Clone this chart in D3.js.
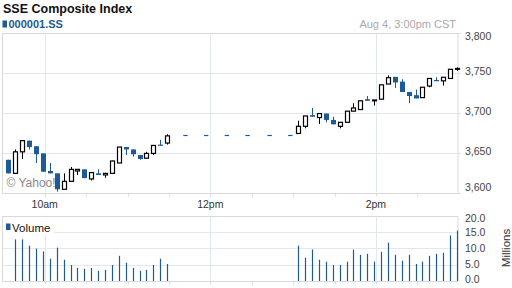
<!DOCTYPE html>
<html><head><meta charset="utf-8">
<script src="https://cdn.jsdelivr.net/npm/d3@7/dist/d3.min.js"></script>
<style>
html,body{margin:0;padding:0;background:#fff;}
svg{display:block;font-family:Arial,"Liberation Sans",sans-serif;}
</style></head>
<body><svg id="c" width="512" height="288"></svg>
<script>
const times = ["09:30","09:35","09:40","09:45","09:50","09:55","10:00","10:05","10:10","10:15","10:20","10:25",
"10:30","10:35","10:40","10:45","10:50","10:55","11:00","11:05","11:10","11:15","11:20","11:25",
"13:00","13:05","13:10","13:15","13:20","13:25","13:30","13:35","13:40","13:45","13:50","13:55",
"14:00","14:05","14:10","14:15","14:20","14:25","14:30","14:35","14:40","14:45","14:50","14:55"];
const open  = [3641,3624,3651,3665,3658,3649,3627,3624,3604,3614,3627,3629,3617,3624,3622,3624,3637,3657,3654,3647,3643,3649,3660,3662,
3674,3683,3697,3694,3699,3691,3683,3688,3702,3704,3717,3715,3717,3736,3745,3739,3726,3722,3719,3733.5,3741,3740,3743,3754.5];
const high  = [3641,3654,3665,3665,3658,3649,3637,3624,3624,3632,3629,3629,3625,3629,3624,3640,3657,3657,3654,3647,3651,3659,3666,3673,
3690,3696,3706,3699,3699,3695,3688,3702,3712,3715,3721,3716,3735,3747,3745,3742,3726,3729,3732,3743,3744.5,3744.5,3754.5,3757];
const low   = [3624,3624,3642,3654,3637,3626,3624,3601,3604,3614,3622,3618,3615,3622,3618.5,3624,3637,3647,3645,3641,3643,3647,3659,3660,
3674,3680.5,3695,3686,3688,3685.5,3680.5,3688,3702,3704,3715,3709,3717,3736,3731,3726,3712,3718,3719,3732,3740,3734,3743,3752.5];
const close = [3624,3651,3665,3657,3648,3626,3624,3604,3614,3629,3629,3618,3625,3622,3624,3639.5,3657,3654,3648,3642,3649,3659,3659,3671,
3683,3696,3695,3699,3691,3685.5,3688,3702,3706,3715,3715,3716,3735,3744,3738,3726,3721,3718,3732,3743,3740,3744.5,3754.5,3755.5];
const volume = [null,12.7,12.7,10.8,9.9,9.0,6.8,10.2,6.5,4.9,4.0,3.7,4.0,3.1,3.4,4.9,7.7,5.6,4.0,3.1,3.4,4.9,6.8,5.2,
10.8,7.1,9.6,6.5,5.9,4.9,4.9,5.9,9.6,8.0,8.3,5.9,8.9,11.7,8.0,6.2,8.0,5.2,5.9,7.7,8.3,8.6,13.9,15.4];
const lunchTimes = ["11:42","11:57","12:12","12:27","12:43","12:58"];
const lunchPrice = [3672,3672,3672,3672,3672,3672];
const priceTicks = [3600,3650,3700,3750,3800];
const volTicks = [0,5,10,15,20];
const hourTicks = ["10:00","12:00","14:00"];
const hourLabels = ["10am","12pm","2pm"];
const halfTicks = ["10:30","11:00","11:30","12:30","13:00","13:30","14:30"];

const BLUE = "#1d5a96", GRID = "#e3e7f1", BORDER = "#d9d9d9";
const parseT = s => { const [h,m] = s.split(":").map(Number); return new Date(2015,7,4,h,m); };
const svg = d3.select("#c");
const L = 3, R = 458, T1 = 33, B1 = 192.5, T2 = 215.5, B2 = 281;
const x = d3.scaleTime().domain([parseT("09:30"), parseT("15:00")]).range([3.3, 458.7]);
const y = d3.scaleLinear().domain([3600,3800]).range([B1, T1]);
const yv = d3.scaleLinear().domain([0,20]).range([B2, T2]);
const step = x(parseT("09:35")) - x(parseT("09:30"));
const cx = s => x(parseT(s)) + step * 0.75;

// header
svg.append("text").attr("x",3).attr("y",13).attr("font-size",12.5).attr("font-weight","bold").attr("fill","#111").text("SSE Composite Index");
svg.append("rect").attr("x",2.5).attr("y",20.5).attr("width",4.5).attr("height",7).attr("fill",BLUE);
svg.append("text").attr("x",8.5).attr("y",27.5).attr("font-size",11).attr("font-weight","bold").attr("fill",BLUE).text("000001.SS");
svg.append("text").attr("x",456).attr("y",28).attr("font-size",11).attr("text-anchor","end").attr("fill","#aaa").text("Aug 4, 3:00pm CST");

function panel(top, bottom, yscale, ticks) {
  const g = svg.append("g");
  g.selectAll(".hg").data(ticks.slice(1,-1)).join("line")
    .attr("x1",L).attr("x2",R).attr("y1",d=>Math.round(yscale(d))+0.5).attr("y2",d=>Math.round(yscale(d))+0.5)
    .attr("stroke",GRID);
  g.selectAll(".vg").data(hourTicks).join("line")
    .attr("x1",d=>Math.round(x(parseT(d)))+0.5).attr("x2",d=>Math.round(x(parseT(d)))+0.5)
    .attr("y1",top).attr("y2",bottom).attr("stroke",GRID);
  g.append("rect").attr("x",L-0.5).attr("y",Math.round(top)+0.5).attr("width",R-L+0.5).attr("height",Math.round(bottom)-Math.round(top))
    .attr("fill","none").attr("stroke",BORDER);
  g.selectAll(".bt").data(halfTicks.concat(hourTicks)).join("line")
    .attr("x1",d=>Math.round(x(parseT(d)))+0.5).attr("x2",d=>Math.round(x(parseT(d)))+0.5)
    .attr("y1",Math.round(bottom)+0.5).attr("y2",Math.round(bottom)+3.5).attr("stroke","#ddd");
  return g;
}
panel(T1, B1, y, priceTicks);
panel(T2, B2, yv, volTicks);

// right axes labels
const fmtP = d3.format(","), fmtV = d3.format(".1f");
svg.append("g").selectAll("text").data(priceTicks).join("text")
  .attr("x",465).attr("y",d=>Math.max(36, Math.min(187, y(d)-1.5))).attr("dy","0.35em")
  .attr("font-size",10.5).attr("fill","#444").text(d=>fmtP(d));
svg.append("g").selectAll("text").data(volTicks).join("text")
  .attr("x",465).attr("y",d=>Math.max(218.5, Math.min(279.3, yv(d)))).attr("dy","0.35em")
  .attr("font-size",10.5).attr("fill","#444").text(d=>fmtV(d));
svg.append("g").selectAll("line").data(priceTicks).join("line")
  .attr("x1",R).attr("x2",R+3).attr("y1",d=>Math.round(y(d))+0.5).attr("y2",d=>Math.round(y(d))+0.5).attr("stroke","#ddd");

// x labels
svg.append("g").selectAll("text").data(hourTicks).join("text")
  .attr("x",d=>x(parseT(d))).attr("y",207.5).attr("text-anchor","middle")
  .attr("font-size",10.5).attr("fill","#333").text((d,i)=>hourLabels[i]);

svg.append("text").attr("transform","translate(509.5,248) rotate(-90)").attr("text-anchor","middle")
  .attr("font-size",11.5).attr("fill","#333").text("Millions");

// candles
const data = times.map((t,i)=>({t, o:open[i], h:high[i], l:low[i], c:close[i], v:volume[i]}));
const cg = svg.append("g");
cg.selectAll(".wick").data(data).join("line")
  .attr("x1",d=>Math.round(cx(d.t))+0.5).attr("x2",d=>Math.round(cx(d.t))+0.5)
  .attr("y1",d=>y(d.h)).attr("y2",d=>y(d.l))
  .attr("stroke",d=>d.c<d.o?BLUE:"#000").attr("stroke-width",1);
cg.selectAll(".body").data(data).join("rect")
  .attr("x",d=>d.c<d.o ? Math.round(cx(d.t))-2 : Math.round(cx(d.t))-1.5)
  .attr("width",d=>d.c<d.o ? 5 : 4)
  .attr("y",d=>d.c<d.o ? y(d.o) : y(Math.max(d.o,d.c)))
  .attr("height",d=>Math.max(d.c<d.o?1.2:0.3, Math.abs(y(d.o)-y(d.c))))
  .attr("fill",d=>d.c<d.o?BLUE:"#fff")
  .attr("stroke",d=>d.c<d.o?"none":"#000").attr("stroke-width",1.2);

// lunch break flat marks
svg.append("g").selectAll("line").data(lunchTimes).join("line")
  .attr("x1",d=>x(parseT(d))-2.2).attr("x2",d=>x(parseT(d))+2.2)
  .attr("y1",(d,i)=>Math.round(y(lunchPrice[i]))+0.5).attr("y2",(d,i)=>Math.round(y(lunchPrice[i]))+0.5)
  .attr("stroke",BLUE).attr("stroke-width",1.2);

// copyright
svg.append("text").attr("x",6.5).attr("y",187).attr("font-size",12).attr("fill","#888").text("\u00a9 Yahoo!");

// volume legend
svg.append("rect").attr("x",3.5).attr("y",218).attr("width",51).attr("height",17).attr("fill","#fff");
svg.append("rect").attr("x",6).attr("y",223.5).attr("width",4.5).attr("height",6.5).attr("fill",BLUE);
svg.append("text").attr("x",12).attr("y",231.5).attr("font-size",11.5).attr("fill","#111").text("Volume");

// volume bars
svg.append("g").selectAll("line").data(data.filter(d=>d.v!=null)).join("line")
  .attr("x1",d=>Math.round(cx(d.t))+0.5).attr("x2",d=>Math.round(cx(d.t))+0.5)
  .attr("y1",d=>yv(0)).attr("y2",d=>yv(d.v))
  .attr("stroke",BLUE).attr("stroke-width",1.2);
</script></body></html>
